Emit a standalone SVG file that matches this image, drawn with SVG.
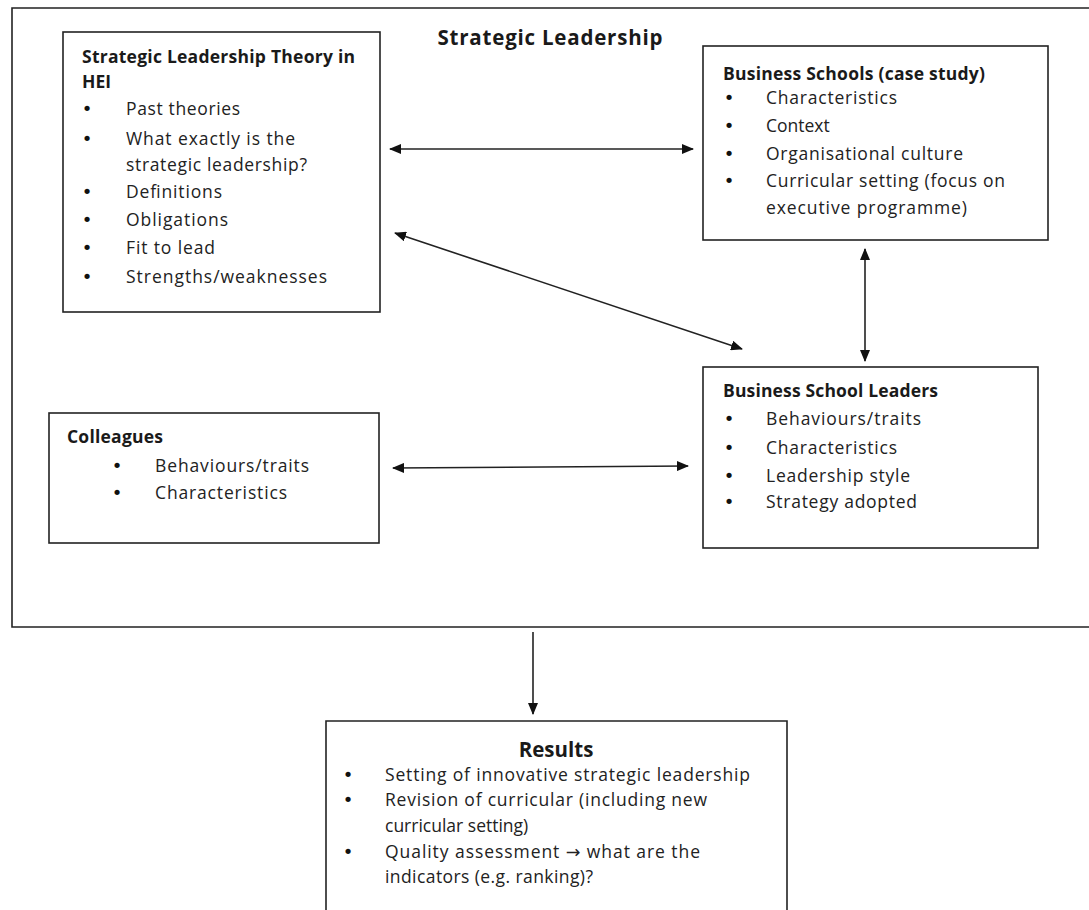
<svg xmlns="http://www.w3.org/2000/svg" width="1089" height="910" viewBox="0 0 1089 910">
  <style>
    .frame { fill: none; stroke: #222; stroke-width: 1.6; }
    .box { fill: #fff; stroke: #222; stroke-width: 1.6; }
    .conn { fill: none; stroke: #222; stroke-width: 1.6; }
    .title { font-family: "Open Sans", "Liberation Sans", sans-serif; font-weight: bold; font-size: 17.5px; fill: #1a1a1a; }
    .item { font-family: "Open Sans", "Liberation Sans", sans-serif; font-size: 17.5px; fill: #222; }
    .bul { font-family: "DejaVu Sans", sans-serif; font-size: 18px; fill: #111; text-anchor: middle; }
    .head { font-family: "Open Sans", "Liberation Sans", sans-serif; font-weight: bold; font-size: 20.5px; fill: #1a1a1a; text-anchor: middle; }
    .sym { font-family: "DejaVu Sans", sans-serif; }
  </style>
  <defs>
    <marker id="arrow" viewBox="0 0 12 10" refX="11" refY="5" markerWidth="12" markerHeight="10" markerUnits="userSpaceOnUse" orient="auto-start-reverse">
      <path d="M0,0 L12,5 L0,10 Z" fill="#111"/>
    </marker>
  </defs>

  <rect width="1089" height="910" fill="#fff"/>

  <!-- outer frame (right side runs off the page) -->
  <g id="frame">
    <path class="frame" d="M1089,8 H12 V627 H1089"/>
    <text class="head" x="550" y="45" textLength="225">Strategic Leadership</text>
  </g>

  <g id="theory">
    <rect class="box" x="63" y="32" width="317" height="280"/>
    <text class="title" x="82" y="63" textLength="273">Strategic Leadership Theory in</text>
    <text class="title" x="82" y="88">HEI</text>
    <text class="bul" x="87" y="115">•</text><text class="item" x="126" y="115" textLength="114">Past theories</text>
    <text class="bul" x="87" y="145">•</text><text class="item" x="126" y="145" textLength="169">What exactly is the</text>
    <text class="item" x="126" y="171" textLength="181">strategic leadership?</text>
    <text class="bul" x="87" y="198">•</text><text class="item" x="126" y="198" textLength="96">Definitions</text>
    <text class="bul" x="87" y="226">•</text><text class="item" x="126" y="226" textLength="102">Obligations</text>
    <text class="bul" x="87" y="254">•</text><text class="item" x="126" y="254" textLength="89">Fit to lead</text>
    <text class="bul" x="87" y="283">•</text><text class="item" x="126" y="283" textLength="201">Strengths/weaknesses</text>
  </g>

  <g id="schools">
    <rect class="box" x="703" y="46" width="345" height="194"/>
    <text class="title" x="723" y="80" textLength="262">Business Schools (case study)</text>
    <text class="bul" x="729" y="104">•</text><text class="item" x="766" y="104" textLength="131">Characteristics</text>
    <text class="bul" x="729" y="132">•</text><text class="item" x="766" y="132">Context</text>
    <text class="bul" x="729" y="160">•</text><text class="item" x="766" y="160" textLength="197">Organisational culture</text>
    <text class="bul" x="729" y="187">•</text><text class="item" x="766" y="187" textLength="239">Curricular setting (focus on</text>
    <text class="item" x="766" y="214" textLength="201">executive programme)</text>
  </g>

  <g id="leaders">
    <rect class="box" x="703" y="367" width="335" height="181"/>
    <text class="title" x="723" y="397" textLength="215">Business School Leaders</text>
    <text class="bul" x="729" y="425">•</text><text class="item" x="766" y="425" textLength="155">Behaviours/traits</text>
    <text class="bul" x="729" y="454">•</text><text class="item" x="766" y="454" textLength="131">Characteristics</text>
    <text class="bul" x="729" y="482">•</text><text class="item" x="766" y="482" textLength="144">Leadership style</text>
    <text class="bul" x="729" y="508">•</text><text class="item" x="766" y="508" textLength="151">Strategy adopted</text>
  </g>

  <g id="colleagues">
    <rect class="box" x="49" y="413" width="330" height="130"/>
    <text class="title" x="67" y="443" textLength="96">Colleagues</text>
    <text class="bul" x="117" y="472">•</text><text class="item" x="155" y="472" textLength="154">Behaviours/traits</text>
    <text class="bul" x="117" y="499">•</text><text class="item" x="155" y="499" textLength="132">Characteristics</text>
  </g>

  <g id="results">
    <path class="frame" d="M326,910 V721 H787 V910"/>
    <text class="head" x="556" y="757" font-size="22">Results</text>
    <text class="bul" x="348" y="781">•</text><text class="item" x="385" y="781" textLength="365">Setting of innovative strategic leadership</text>
    <text class="bul" x="348" y="806">•</text><text class="item" x="385" y="806" textLength="322">Revision of curricular (including new</text>
    <text class="item" x="385" y="832">curricular setting)</text>
    <text class="bul" x="348" y="858">•</text><text class="item" x="385" y="858" textLength="315">Quality assessment <tspan class="sym">→</tspan> what are the</text>
    <text class="item" x="385" y="883" textLength="208">indicators (e.g. ranking)?</text>
  </g>

  <g id="connectors">
    <line class="conn" x1="390" y1="149" x2="693" y2="149" marker-start="url(#arrow)" marker-end="url(#arrow)"/>
    <line class="conn" x1="395" y1="233" x2="742" y2="349" marker-start="url(#arrow)" marker-end="url(#arrow)"/>
    <line class="conn" x1="865" y1="249" x2="865" y2="361" marker-start="url(#arrow)" marker-end="url(#arrow)"/>
    <line class="conn" x1="393" y1="468" x2="688" y2="466" marker-start="url(#arrow)" marker-end="url(#arrow)"/>
    <line class="conn" x1="533" y1="632" x2="533" y2="714" marker-end="url(#arrow)"/>
  </g>
</svg>
